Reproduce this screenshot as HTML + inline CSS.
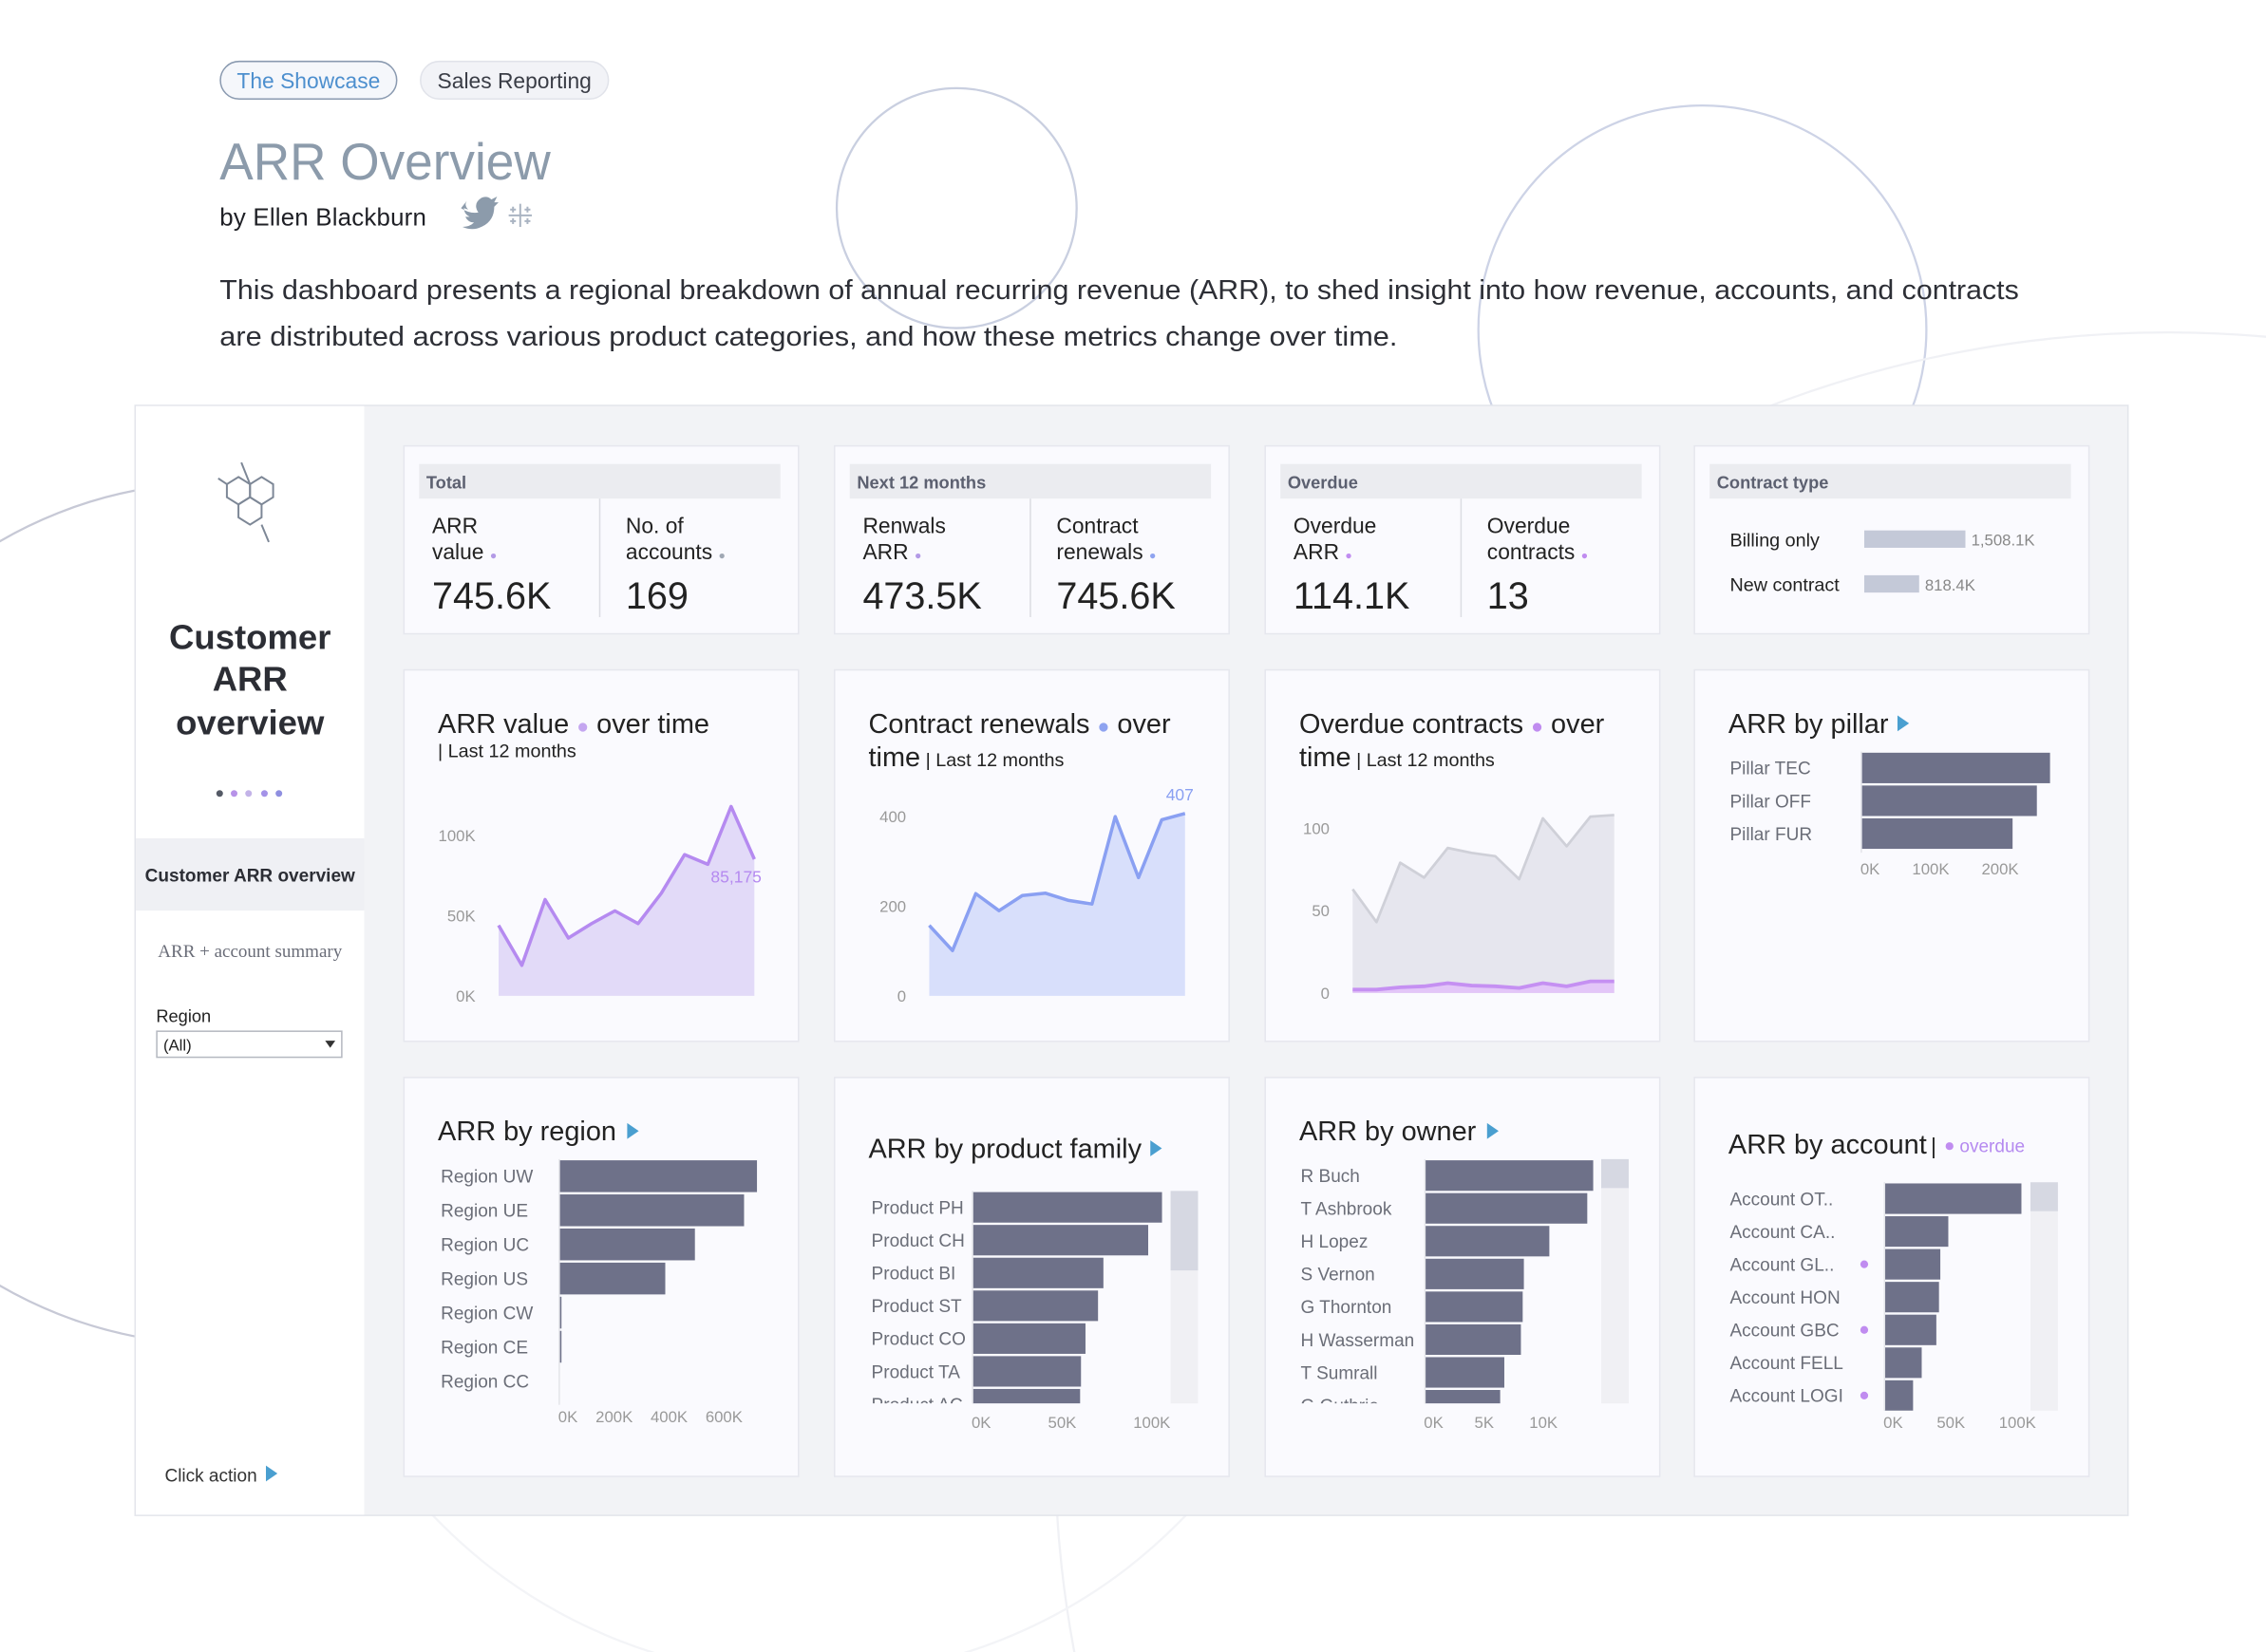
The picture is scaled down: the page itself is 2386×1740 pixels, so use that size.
<!DOCTYPE html>
<html><head><meta charset="utf-8"><title>ARR Overview</title>
<style>
html,body{margin:0;padding:0;background:#fff;overflow:hidden;width:2386px;height:1740px;}
svg{display:block;font-family:"Liberation Sans",sans-serif;}
</style></head>
<body>
<svg id="root" width="2386" height="1740" viewBox="0 0 1568 1143" preserveAspectRatio="none" xmlns="http://www.w3.org/2000/svg">
<rect x="0" y="0" width="1568" height="1143" fill="#fff"/>
<g fill="none" stroke="#d7dbe8" stroke-width="1.5">
  <circle cx="662" cy="144" r="83" stroke="#c9cfe0"/>
  <circle cx="1178" cy="228" r="155" stroke="#cdd3e6"/>
  <circle cx="150" cy="632" r="298" stroke="#c7c9d6"/>
  <circle cx="1500" cy="1000" r="770" stroke="#f0f1f5"/>
  <circle cx="560" cy="800" r="360" stroke="#f3f4f7"/>
</g>

<g>
  <rect x="152.5" y="42.5" width="122" height="26" rx="13" fill="#f5f7fb" stroke="#8a9ab0"/>
  <text x="213.5" y="61" text-anchor="middle" font-size="15" fill="#4d8fce">The Showcase</text>
  <rect x="291" y="42.5" width="130" height="26" rx="13" fill="#f2f3f7" stroke="#e1e3ea"/>
  <text x="356" y="61" text-anchor="middle" font-size="15" fill="#3a3d46">Sales Reporting</text>
  <text x="152" y="124" font-size="36" fill="#8c9bab" textLength="229" lengthAdjust="spacingAndGlyphs">ARR Overview</text>
  <text x="152" y="156" font-size="17" fill="#1f2026" textLength="143">by Ellen Blackburn</text>
  <path d="M319 144 q6 4 12 3 q-4-6 2-10 q4-2 7 1 l4-2 -2 4 3 0 -3 3 q0 10-9 14 q-6 3-13 0 q5 0 8-3 q-4 0-6-4 l3 0 q-4-2-4-6 l3 1 q-3-3-1-6z" fill="#8c9bab"/>
  <g stroke="#aab4c2" stroke-width="1.3">
    <line x1="360" y1="141" x2="360" y2="157"/><line x1="352" y1="149" x2="368" y2="149"/>
    <line x1="355" y1="143" x2="355" y2="147"/><line x1="353" y1="145" x2="357" y2="145"/>
    <line x1="365" y1="143" x2="365" y2="147"/><line x1="363" y1="145" x2="367" y2="145"/>
    <line x1="355" y1="151" x2="355" y2="155"/><line x1="353" y1="153" x2="357" y2="153"/>
    <line x1="365" y1="151" x2="365" y2="155"/><line x1="363" y1="153" x2="367" y2="153"/>
  </g>
  <text x="152" y="207" font-size="18.6" fill="#2d2f36" textLength="1245" lengthAdjust="spacingAndGlyphs">This dashboard presents a regional breakdown of annual recurring revenue (ARR), to shed insight into how revenue, accounts, and contracts</text>
  <text x="152" y="239" font-size="18.6" fill="#2d2f36" textLength="815" lengthAdjust="spacingAndGlyphs">are distributed across various product categories, and how these metrics change over time.</text>
</g>

<g>
  <rect x="93.5" y="280.5" width="1379" height="768" fill="#f2f3f6" stroke="#e3e5eb"/>
  <rect x="94" y="281" width="158" height="767" fill="#fff"/>
</g>

<g>
  <g fill="none" stroke="#7d8796" stroke-width="1.3">
    <polygon points="181,330 189,335 189,344 181,349 173,344 173,335"/>
    <polygon points="173,344 181,349 181,358 173,363 165,358 165,349"/>
    <polygon points="165,330 173,335 173,344 165,349 157,344 157,335"/>
    <polygon points="165,349 173,353 173,363 165,367 157,363 157,353" opacity="0"/>
    <polygon points="189,344 197,349 197,358 189,363 181,358 181,349" opacity="0"/>
    <line x1="173" y1="335" x2="167" y2="320"/><line x1="157" y1="335" x2="151" y2="331"/><line x1="181" y1="363" x2="186" y2="375"/>
  </g>
  <text x="173" y="449" text-anchor="middle" font-size="24" font-weight="bold" fill="#2c2e35">Customer</text>
  <text x="173" y="478" text-anchor="middle" font-size="24" font-weight="bold" fill="#2c2e35">ARR</text>
  <text x="173" y="508" text-anchor="middle" font-size="24" font-weight="bold" fill="#2c2e35">overview</text>
  <g>
    <circle cx="152" cy="549" r="2.3" fill="#555a66"/><circle cx="162" cy="549" r="2.3" fill="#b792e8"/>
    <circle cx="172" cy="549" r="2.3" fill="#c3b3e8"/><circle cx="183" cy="549" r="2.3" fill="#a492e8"/>
    <circle cx="193" cy="549" r="2.3" fill="#8f8fe0"/>
  </g>
  <rect x="94" y="580" width="158" height="50" fill="#eff0f4"/>
  <text x="173" y="610" text-anchor="middle" font-size="12.5" font-weight="bold" fill="#2c2e35">Customer ARR overview</text>
  <text x="173" y="662" text-anchor="middle" font-size="12.5" fill="#6a6d78" font-family="Liberation Serif, serif">ARR + account summary</text>
  <text x="108" y="707" font-size="12" fill="#222">Region</text>
  <rect x="108.5" y="713.5" width="128" height="18" fill="#fff" stroke="#b5b8c0"/>
  <text x="113" y="727" font-size="11" fill="#222">(All)</text>
  <polygon points="225,720 232,720 228.5,725" fill="#333"/>
  <text x="114" y="1025" font-size="12.5" fill="#333">Click action</text>
  <polygon points="184,1014 192,1019.5 184,1025" fill="#4a9fd0"/>
</g>

<g id="cards"></g>
</svg>

<script>
// ---- chart data ----
const arrMonths = ['M1','M2','M3','M4','M5','M6','M7','M8','M9','M10','M11','M12'];
const arrValues = [44, 19, 60, 36, 45, 53, 45, 64, 88, 82, 118, 85.175];
const renewalValues = [157, 101, 228, 190, 224, 229, 213, 205, 400, 264, 393, 407];
const overdueTotal = [63, 43, 79, 70, 88, 85, 83, 69, 106, 89, 107, 108];
const overdueOverdue = [2, 2, 3.4, 4, 6, 4.5, 4, 3, 6, 4, 7, 7];
const arrTicks = [0, 50, 100];
const renewalTicks = [0, 200, 400];
const overdueTicks = [0, 50, 100];

const pillarCats = ['Pillar TEC','Pillar OFF','Pillar FUR'];
const pillarVals = [272, 253, 218];
const pillarTicks = [0, 100, 200];

const regionCats = ['Region UW','Region UE','Region UC','Region US','Region CW','Region CE','Region CC'];
const regionVals = [720, 673, 494, 386, 8, 8, 0];
const regionTicks = [0, 200, 400, 600];

const productCats = ['Product PH','Product CH','Product BI','Product ST','Product CO','Product TA','Product AC'];
const productVals = [105.7, 98, 73, 70, 63, 60.5, 60];
const productTicks = [0, 50, 100];

const ownerCats = ['R Buch','T Ashbrook','H Lopez','S Vernon','G Thornton','H Wasserman','T Sumrall','G Guthrie'];
const ownerVals = [14.2, 13.7, 10.5, 8.35, 8.25, 8.1, 6.7, 6.35];
const ownerTicks = [0, 5, 10];

const accountCats = ['Account OT..','Account CA..','Account GL..','Account HON','Account GBC','Account FELL','Account LOGI'];
const accountVals = [103, 48, 42, 41, 39, 28, 21.5];
const accountOverdue = [false, false, true, false, true, false, true];
const accountTicks = [0, 50, 100];

const contractCats = ['Billing only','New contract'];
const contractVals = [1508.1, 818.4];

// ---- helpers ----
const NS = 'http://www.w3.org/2000/svg';
const cards = document.getElementById('cards');
function mk(tag, parent){ const e = document.createElementNS(NS, tag); (parent||cards).appendChild(e); return e; }
function txt(parent, x, y, s, size, fill, extra){
  const t = mk('text', parent); t.setAttribute('x', x); t.setAttribute('y', y);
  t.setAttribute('font-size', size); t.setAttribute('fill', fill); t.textContent = s;
  if (extra) for (const k in extra) t.setAttribute(k, extra[k]);
  return t;
}
function tsp(t, s, size, fill){
  const e = document.createElementNS(NS, 'tspan'); e.textContent = s;
  if (size) e.setAttribute('font-size', size);
  if (fill) e.setAttribute('fill', fill);
  t.appendChild(e); return e;
}
const colX = [279, 577, 875, 1172];
const colW = 273;
function card(ci, y, h, name){
  const g = mk('g');
  
  
  const r = mk('rect', g);
  r.setAttribute('x', colX[ci] + 0.5); r.setAttribute('y', y + 0.5);
  r.setAttribute('width', colW); r.setAttribute('height', h);
  r.setAttribute('fill', '#fafafe'); r.setAttribute('stroke', '#e6e7ee');
  return g;
}

// ---- KPI cards ----
const kpis = [
  {name:'total-kpi-card', head:'Total', a:['ARR','value'], av:'745.6K', ad:'#b39ae6', b:['No. of','accounts'], bv:'169', bd:'#a0a8b4'},
  {name:'next-12-months-kpi-card', head:'Next 12 months', a:['Renwals','ARR'], av:'473.5K', ad:'#b39ae6', b:['Contract','renewals'], bv:'745.6K', bd:'#8ea3f0'},
  {name:'overdue-kpi-card', head:'Overdue', a:['Overdue','ARR'], av:'114.1K', ad:'#c08cf0', b:['Overdue','contracts'], bv:'13', bd:'#c08cf0'}
];
kpis.forEach((k, i) => {
  const g = card(i, 308, 130, k.name);
  const x = colX[i];
  const hb = mk('rect', g); hb.setAttribute('x', x + 11); hb.setAttribute('y', 321); hb.setAttribute('width', 250); hb.setAttribute('height', 24); hb.setAttribute('fill', '#ebecf0');
  txt(g, x + 16, 338, k.head, 12, '#5c6070', {'font-weight':'bold'});
  const dv = mk('line', g); dv.setAttribute('x1', x + 136); dv.setAttribute('x2', x + 136); dv.setAttribute('y1', 345); dv.setAttribute('y2', 427); dv.setAttribute('stroke', '#dcdde3');
  txt(g, x + 20, 369, k.a[0], 15, '#222');
  const ta = txt(g, x + 20, 387, k.a[1] + ' ', 15, '#222');
  tsp(ta, '●', 8, k.ad);
  const v1 = txt(g, x + 20, 421, k.av, 26, '#222');
  
  
  txt(g, x + 154, 369, k.b[0], 15, '#222');
  const tb = txt(g, x + 154, 387, k.b[1] + ' ', 15, '#222');
  tsp(tb, '●', 8, k.bd);
  const v2 = txt(g, x + 154, 421, k.bv, 26, '#222');
  
  
});
// contract type
{
  const g = card(3, 308, 130, 'contract-type-card');
  const x = colX[3];
  const hb = mk('rect', g); hb.setAttribute('x', x + 11); hb.setAttribute('y', 321); hb.setAttribute('width', 250); hb.setAttribute('height', 24); hb.setAttribute('fill', '#ebecf0');
  txt(g, x + 16, 338, 'Contract type', 12, '#5c6070', {'font-weight':'bold'});
  const cx0 = 1290, cpx = 70 / 1508.1;
  contractCats.forEach((c, i) => {
    const y = 367 + i * 31;
    txt(g, 1197, y + 11, c, 13, '#222');
    const b = mk('rect', g);
    
    
    b.setAttribute('x', cx0); b.setAttribute('y', y); b.setAttribute('width', contractVals[i] * cpx); b.setAttribute('height', 12); b.setAttribute('fill', '#c4c9d8');
    txt(g, cx0 + contractVals[i] * cpx + 4, y + 10.5, contractVals[i].toLocaleString('en-US', {minimumFractionDigits:1, maximumFractionDigits:1}) + 'K', 11, '#888');
  });
}

// ---- line charts ----
function lineChart(opts){
  const g = card(opts.col, 463, 257, opts.name);
  const xs = i => opts.x0 + i * (opts.x1 - opts.x0) / (arrMonths.length - 1);
  const ys = v => opts.yZero - v * opts.pxPer;
  opts.titleLines.forEach((tl, i) => {
    const t = txt(g, colX[opts.col] + 24, (i === 0 ? 507 : opts.line2Y), '', 19, '#222');
    tl.forEach(seg => tsp(t, seg[0], seg[1], seg[2]));
  });
  opts.ticks.forEach(tv => {
    const t = txt(g, opts.x0 - 16, ys(tv) + 4, opts.tickFmt(tv), 11, '#999', {'text-anchor':'end'});
    
    
  });
  opts.series.forEach(s => {
    let pts = s.vals.map((v, i) => xs(i).toFixed(1) + ',' + ys(v).toFixed(1)).join(' ');
    const a = mk('polygon', g);
    
    
    a.setAttribute('points', xs(0) + ',' + opts.yZero + ' ' + pts + ' ' + xs(s.vals.length - 1) + ',' + opts.yZero);
    a.setAttribute('fill', s.fill);
    const l = mk('polyline', g);
    
    
    l.setAttribute('points', pts); l.setAttribute('fill', 'none'); l.setAttribute('stroke', s.stroke); l.setAttribute('stroke-width', s.w); l.setAttribute('stroke-linejoin', 'round');
  });
  if (opts.label) {
    const last = opts.series[0].vals.length - 1;
    const t = txt(g, xs(last) + opts.label.dx, ys(opts.series[0].vals[last]) + opts.label.dy, opts.label.text, 11.5, opts.label.color, {'text-anchor':'end'});
    
    
  }
  return g;
}
lineChart({col:0, name:'arr-value-over-time-card', x0:345, x1:522, yZero:689, pxPer:1.11, ticks:arrTicks, tickFmt:v => v + 'K', line2Y:524,
  titleLines:[[['ARR value '],['●', 14, '#c4a6f0'],[' over time']],[['| Last 12 months', 13]]],
  series:[{name:'arr-value', vals:arrValues, fill:'#e2daf8', stroke:'#b58af0', w:2.3}],
  label:{text:'85,175', dx:5, dy:16, color:'#b58af0'}});
lineChart({col:1, name:'contract-renewals-over-time-card', x0:643, x1:820, yZero:689, pxPer:0.31, ticks:renewalTicks, tickFmt:v => '' + v, line2Y:530,
  titleLines:[[['Contract renewals '],['●', 14, '#8ea3f0'],[' over']],[['time'],[' | Last 12 months', 13]]],
  series:[{name:'contract-renewals', vals:renewalValues, fill:'#d8dffb', stroke:'#8aa0f2', w:2.3}],
  label:{text:'407', dx:6, dy:-9, color:'#8aa0f2'}});
lineChart({col:2, name:'overdue-contracts-over-time-card', x0:936, x1:1117, yZero:687, pxPer:1.14, ticks:overdueTicks, tickFmt:v => '' + v, line2Y:530,
  titleLines:[[['Overdue contracts '],['●', 14, '#c08cf0'],[' over']],[['time'],[' | Last 12 months', 13]]],
  series:[{name:'overdue-total', vals:overdueTotal, fill:'#e6e6ee', stroke:'#cfd0d8', w:1.8},
          {name:'overdue-overdue', vals:overdueOverdue, fill:'#e3c6f8', stroke:'#c590f2', w:2.5}]});

// ---- bar charts ----
function barChart(o){
  const g = card(o.col, o.cy, o.ch, o.name);
  txt(g, colX[o.col] + 24, o.titleY, o.title, 19, '#222');
  if (o.arrowX) {
    const a = mk('polygon', g);
    
    
    a.setAttribute('points', o.arrowX + ',' + (o.titleY - 12) + ' ' + (o.arrowX + 8) + ',' + (o.titleY - 6.5) + ' ' + o.arrowX + ',' + (o.titleY - 1));
    a.setAttribute('fill', '#4a9fd0');
  }
  if (o.extraTitle) o.extraTitle(g);
  const xs = v => o.x0 + v * o.pxPer;
  const clipId = 'clip-' + o.name;
  const cp = mk('clipPath', g); cp.setAttribute('id', clipId);
  const cr = mk('rect', cp); cr.setAttribute('x', colX[o.col]); cr.setAttribute('y', o.top - 2); cr.setAttribute('width', colW); cr.setAttribute('height', o.clipB - o.top + 2);
  const inner = mk('g', g); inner.setAttribute('clip-path', 'url(#' + clipId + ')');
  o.cats.forEach((c, i) => {
    const y = o.top + i * o.step;
    const l = txt(inner, o.labelX, y + o.step / 2 + 4.5, c, 12.5, '#6b6e78');
    
    
    const b = mk('rect', inner);
    
    
    b.setAttribute('x', o.x0); b.setAttribute('y', y + 0.8); b.setAttribute('width', Math.max(0, xs(o.vals[i]) - o.x0)); b.setAttribute('height', o.step - 1.6);
    b.setAttribute('fill', '#6e7189');
    if (o.dots && o.dots[i]) {
      const d = mk('circle', inner); d.setAttribute('cx', o.x0 - 14); d.setAttribute('cy', y + o.step / 2); d.setAttribute('r', 2.7); d.setAttribute('fill', '#c08cf0');
    }
  });
  const ax = mk('line', g); ax.setAttribute('x1', o.x0); ax.setAttribute('x2', o.x0); ax.setAttribute('y1', o.top); ax.setAttribute('y2', o.clipB); ax.setAttribute('stroke', '#e4e5ea');
  o.ticks.forEach(tv => {
    const tl = txt(g, xs(tv) + (tv === 0 ? 6 : 0), o.tickY, tv + 'K', 11, '#999', {'text-anchor':'middle'});
    
    
  });
  if (o.scroll) {
    const s = mk('rect', g); s.setAttribute('x', o.scroll[0]); s.setAttribute('y', o.top); s.setAttribute('width', 19); s.setAttribute('height', o.clipB - o.top); s.setAttribute('fill', '#f0f0f4');
    const th = mk('rect', g);
    
    
    th.setAttribute('x', o.scroll[0]); th.setAttribute('y', o.top); th.setAttribute('width', 19); th.setAttribute('height', o.scroll[1]); th.setAttribute('fill', '#d6d8e2');
  }
}
barChart({col:3, cy:463, ch:257, name:'arr-by-pillar-card', title:'ARR by pillar', titleY:507, arrowX:1313,
  cats:pillarCats, vals:pillarVals, ticks:pillarTicks, x0:1288, pxPer:0.48, top:520, step:22.7, clipB:590, labelX:1197, tickY:605});
barChart({col:0, cy:745, ch:276, name:'arr-by-region-card', title:'ARR by region', titleY:789, arrowX:434,
  cats:regionCats, vals:regionVals, ticks:regionTicks, x0:387, pxPer:0.19, top:802, step:23.6, clipB:972, labelX:305, tickY:984});
barChart({col:1, cy:745, ch:276, name:'arr-by-product-family-card', title:'ARR by product family', titleY:801, arrowX:796,
  cats:productCats, vals:productVals, ticks:productTicks, x0:673, pxPer:1.24, top:824, step:22.7, clipB:971, labelX:603, tickY:988, scroll:[810, 55]});
barChart({col:2, cy:745, ch:276, name:'arr-by-owner-card', title:'ARR by owner', titleY:789, arrowX:1029,
  cats:ownerCats, vals:ownerVals, ticks:ownerTicks, x0:986, pxPer:8.2, top:802, step:22.7, clipB:971, labelX:900, tickY:988, scroll:[1108, 20]});
barChart({col:3, cy:745, ch:276, name:'arr-by-account-card', title:'ARR by account', titleY:798,
  extraTitle: g => {
    txt(g, 1336, 798, '|', 15, '#222');
    const d = mk('circle', g); d.setAttribute('cx', 1349); d.setAttribute('cy', 793); d.setAttribute('r', 2.7); d.setAttribute('fill', '#c08cf0');
    txt(g, 1356, 797, 'overdue', 12.5, '#b58af0');
  },
  cats:accountCats, vals:accountVals, dots:accountOverdue, ticks:accountTicks, x0:1304, pxPer:0.92, top:818, step:22.7, clipB:976, labelX:1197, tickY:988, scroll:[1405, 20]});
</script>
</body></html>
